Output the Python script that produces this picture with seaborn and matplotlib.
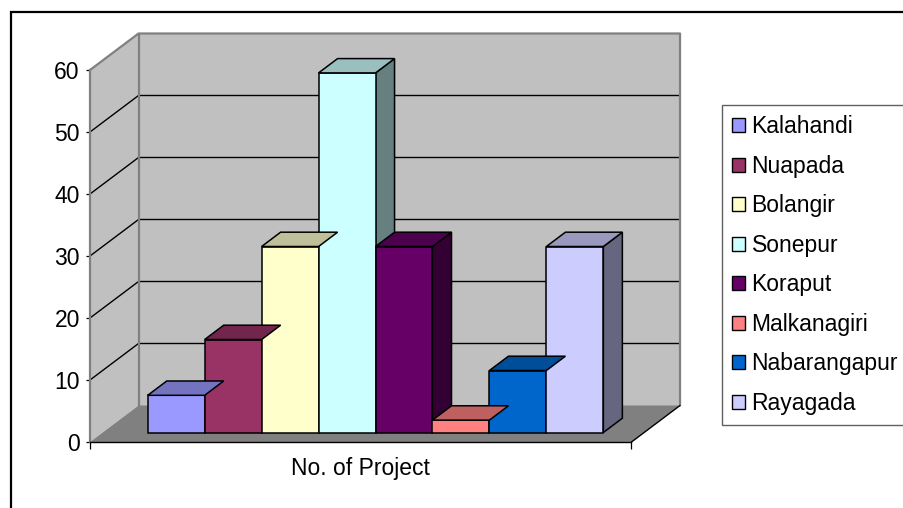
import matplotlib
matplotlib.use("Agg")
import matplotlib.pyplot as plt
import seaborn as sns
import pandas as pd
from matplotlib.patches import Polygon, Rectangle, Patch
from matplotlib.colors import to_rgb

# Number of projects per district
districts = ["Kalahandi", "Nuapada", "Bolangir", "Sonepur",
             "Koraput", "Malkanagiri", "Nabarangapur", "Rayagada"]
projects = [6, 15, 30, 58, 30, 2, 10, 30]
colors = ["#9999FF", "#993366", "#FFFFCC", "#CCFFFF",
          "#660066", "#FF8080", "#0066CC", "#CCCCFF"]
y_ticks = [0, 10, 20, 30, 40, 50, 60]
x_title = "No. of Project"

sns.set_theme(style="white")
plt.rcParams["font.family"] = ["Liberation Sans", "DejaVu Sans"]
plt.rcParams["text.color"] = "black"

FS = 16.5
W, H = 904, 508
fig = plt.figure(figsize=(W / 100, H / 100), dpi=100)
fig.patch.set_facecolor("white")
ax = fig.add_axes([90 / W, 66 / H, 541.5 / W, 372 / H])
ax.patch.set_visible(False)

# 3-D box geometry (data units of the front plane)
XL, XR = -1.292, 8.216          # floor front edge
DX, DY = 0.852, 5.887           # full depth of floor / walls
FRONT = (0.2215, 1.53)          # bar front face offset into the box
BDX, BDY = 0.334, 2.31          # bar depth
YMAX = 60

def shade(c, f):
    r, g, b = to_rgb(c)
    return (r * f, g * f, b * f)

# front faces of the columns
df = pd.DataFrame({"district": districts, "projects": projects})
sns.barplot(data=df, x="district", y="projects", hue="district", palette=colors,
            width=1.0, saturation=1, edgecolor="black", linewidth=1.1,
            errorbar=None, legend=False, ax=ax, zorder=4)
bars = sorted([p for p in ax.patches if isinstance(p, Rectangle)], key=lambda p: p.get_x())

# walls and floor
wall = "#C0C0C0"
ax.add_patch(Polygon([(XL + DX, DY), (XR + DX, DY), (XR + DX, YMAX + DY), (XL + DX, YMAX + DY)],
                     closed=True, fc=wall, ec="none", zorder=0.5, clip_on=False))
ax.add_patch(Polygon([(XL, 0), (XL + DX, DY), (XL + DX, YMAX + DY), (XL, YMAX)],
                     closed=True, fc=wall, ec="none", zorder=0.5, clip_on=False))
ax.add_patch(Polygon([(XL, 0), (XR, 0), (XR + DX, DY), (XL + DX, DY)],
                     closed=True, fc="#808080", ec="none", zorder=0.6, clip_on=False))

for v in y_ticks[1:-1]:
    ax.plot([XL, XL + DX, XR + DX], [v, v + DY, v + DY], color="black", lw=1.0,
            zorder=1, clip_on=False, solid_capstyle="butt")

edge_gray = "#808080"
ax.plot([XL, XL + DX, XR + DX, XR + DX], [YMAX, YMAX + DY, YMAX + DY, DY],
        color=edge_gray, lw=1.6, zorder=1.2, clip_on=False)
ax.plot([XL + DX, XL + DX], [DY, YMAX + DY], color=edge_gray, lw=1.6, zorder=1.2, clip_on=False)
ax.plot([XR, XR + DX], [0, DY], color="black", lw=1.0, zorder=1.2, clip_on=False)

# tops and sides of the columns
for bar, c in zip(bars, colors):
    bar.set_x(bar.get_x() + FRONT[0])
    bar.set_y(bar.get_y() + FRONT[1])
    bar.set_clip_on(False)
    x0 = bar.get_x()
    x1 = x0 + bar.get_width()
    y0 = bar.get_y()
    y1 = y0 + bar.get_height()
    ax.add_patch(Polygon([(x0, y1), (x1, y1), (x1 + BDX, y1 + BDY), (x0 + BDX, y1 + BDY)],
                         closed=True, fc=shade(c, 0.75), ec="black", lw=1.1,
                         zorder=4, clip_on=False))
    ax.add_patch(Polygon([(x1, y0), (x1 + BDX, y0 + BDY), (x1 + BDX, y1 + BDY), (x1, y1)],
                         closed=True, fc=shade(c, 0.5), ec="black", lw=1.1,
                         zorder=3, clip_on=False))

ax.set_xlim(XL, XR)
ax.set_ylim(0, YMAX)

# axes, ticks and labels
for s in ["top", "right"]:
    ax.spines[s].set_visible(False)
ax.spines["left"].set_color(edge_gray)
ax.spines["left"].set_linewidth(1.6)
ax.spines["left"].set_zorder(1.3)
ax.spines["bottom"].set_color("black")
ax.spines["bottom"].set_linewidth(1.0)
ax.spines["bottom"].set_zorder(1.3)

ax.set_yticks(y_ticks)
ax.set_yticklabels([str(t) for t in y_ticks])
ax.tick_params(axis="y", left=True, length=3, width=0.9, color="black",
               pad=4.3, labelsize=FS, labelcolor="black")
ax.set_xticks([XL, XR])
ax.set_xticklabels(["", ""])
ax.tick_params(axis="x", bottom=True, length=5, width=0.9, color="black")
ax.set_ylabel("")
ax.set_xlabel(x_title, fontsize=FS, color="black")
ax.xaxis.set_label_coords(0.5, -26 / 372)
ax.xaxis.label.set_verticalalignment("center")

# legend
handles = [Patch(facecolor=c, edgecolor="black", linewidth=1.0) for c in colors]
leg = fig.legend(handles, districts, loc="upper left",
                 bbox_to_anchor=(721.7 / W, 1 - 105 / H), bbox_transform=fig.transFigure,
                 frameon=True, fancybox=False, shadow=False, framealpha=1,
                 edgecolor="#606060", facecolor="white", fontsize=FS,
                 labelcolor="black",
                 handlelength=0.55, handleheight=0.55, handletextpad=0.3,
                 labelspacing=0.72, borderpad=0.45, borderaxespad=0)
leg.get_frame().set_linewidth(1.0)

# chart area border
fig.add_artist(Rectangle((10.5 / W, -0.05), 1.2, 1 - 12 / H + 0.05,
                         transform=fig.transFigure, fill=False, ec="black", lw=1.6))

fig.savefig("out.png", dpi=100)
